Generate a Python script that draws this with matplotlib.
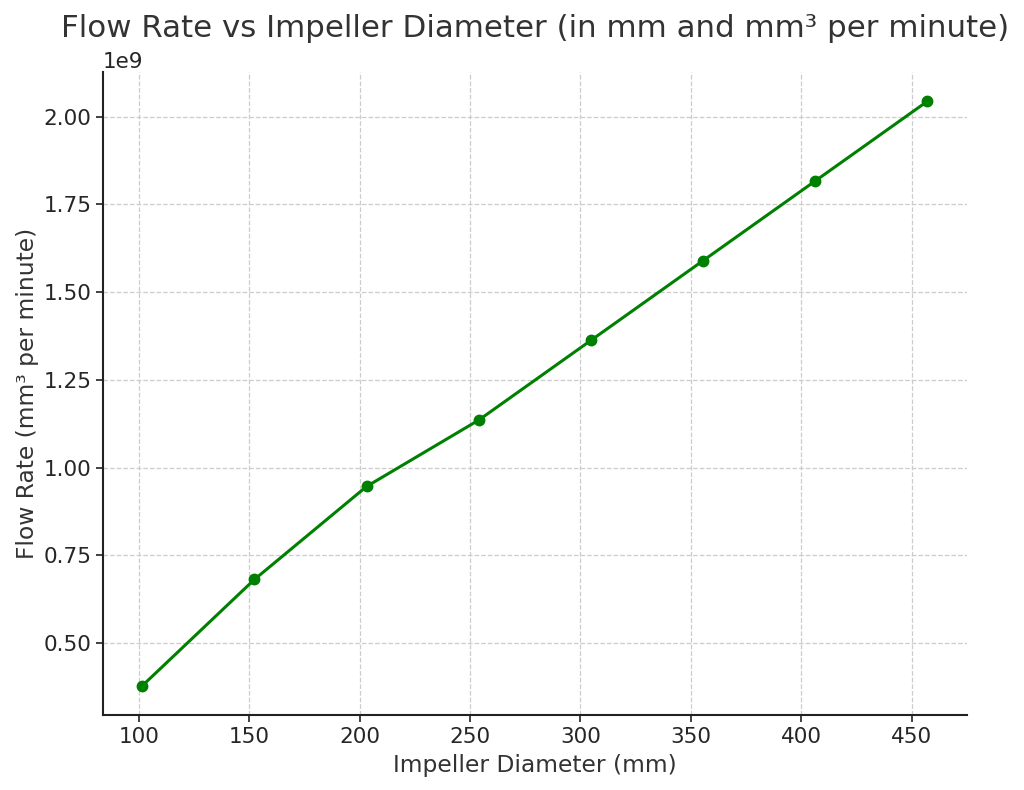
import matplotlib
matplotlib.use("Agg")
import matplotlib.pyplot as plt

diameter_mm = [101.6, 152.4, 203.2, 254.0, 304.8, 355.6, 406.4, 457.2]
flow_rate_mm3_per_min = [3.785e8, 6.814e8, 9.464e8, 1.1356e9, 1.3627e9, 1.5899e9, 1.8170e9, 2.0441e9]

title = "Flow Rate vs Impeller Diameter (in mm and mm³ per minute)"
xlabel = "Impeller Diameter (mm)"
ylabel = "Flow Rate (mm³ per minute)"

text_color = "#333333"
plt.rcParams["font.family"] = ["DejaVu Sans"]

fig = plt.figure(figsize=(10.24, 7.90), dpi=100)
ax = fig.add_axes([103/1024, 1-715/790, (966.7-103)/1024, (715-72)/790])

ax.plot(diameter_mm, flow_rate_mm3_per_min, color="green", linewidth=2.2,
        marker="o", markersize=7.5)

ax.set_title(title, fontsize=22.2, color=text_color, pad=11)
ax.set_xlabel(xlabel, fontsize=16.8, color=text_color, labelpad=5)
ax.set_ylabel(ylabel, fontsize=16.8, color=text_color, labelpad=3)

ax.grid(True, linestyle="--", color="#cccccc", linewidth=0.9)
ax.set_axisbelow(True)
for s in ["top", "right"]:
    ax.spines[s].set_visible(False)
for s in ["left", "bottom"]:
    ax.spines[s].set_color("#222222")
    ax.spines[s].set_linewidth(1.5)
ax.tick_params(axis="both", labelsize=15.5, colors="#222222", labelcolor="#262626",
               length=5, width=1.2)
ax.yaxis.get_offset_text().set_fontsize(15.5)
ax.yaxis.get_offset_text().set_color("#262626")

fig.savefig("out.png", dpi=100)
